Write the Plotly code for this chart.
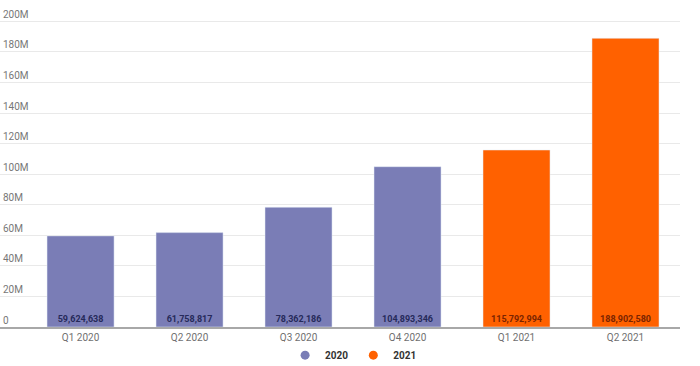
import plotly.graph_objects as go

categories = ["Q1 2020", "Q2 2020", "Q3 2020", "Q4 2020", "Q1 2021", "Q2 2021"]
cat_2020 = ["Q1 2020", "Q2 2020", "Q3 2020", "Q4 2020"]
val_2020 = [59624638, 61758817, 78362186, 104893346]
cat_2021 = ["Q1 2021", "Q2 2021"]
val_2021 = [115792994, 188902580]
y_ticks = [0, 20e6, 40e6, 60e6, 80e6, 100e6, 120e6, 140e6, 160e6, 180e6, 200e6]
y_tick_labels = ["0", "20M", "40M", "60M", "80M", "100M", "120M", "140M", "160M", "180M", "200M"]

C2020 = "#7A7DB6"
C2021 = "#FF6100"

fig = go.Figure()
fig.add_trace(go.Bar(
    x=cat_2020, y=val_2020, name="2020", marker_color=C2020, showlegend=False,
    text=[f"{v:,}" for v in val_2020], textposition="inside", insidetextanchor="start",
    textangle=0, textfont=dict(color="#262A5A", size=9, family="Roboto", weight="bold"),
))
fig.add_trace(go.Bar(
    x=cat_2021, y=val_2021, name="2021", marker_color=C2021, showlegend=False,
    text=[f"{v:,}" for v in val_2021], textposition="inside", insidetextanchor="start",
    textangle=0, textfont=dict(color="#7A2400", size=9, family="Roboto", weight="bold"),
))
# legend entries with circle markers
fig.add_trace(go.Scatter(x=[None], y=[None], mode="markers", name="2020",
                         marker=dict(color=C2020, size=9, symbol="circle")))
fig.add_trace(go.Scatter(x=[None], y=[None], mode="markers", name="2021",
                         marker=dict(color=C2021, size=9, symbol="circle")))

fig.update_layout(
    width=700, height=366,
    margin=dict(l=0, r=20, t=3, b=39, autoexpand=False),
    paper_bgcolor="white", plot_bgcolor="white",
    barmode="overlay", bargap=0.385,
    font=dict(family="Roboto", color="#777777"),
    legend=dict(orientation="h", x=0.52, xanchor="center", y=-0.087, yanchor="middle",
                font=dict(size=10, color="#333333", family="Roboto", weight="bold"),
                itemwidth=30, tracegroupgap=0),
    uniformtext=dict(minsize=8, mode="show"),
)
fig.update_xaxes(
    type="category", categoryorder="array", categoryarray=categories,
    range=[-0.739, 5.5], showgrid=False, showline=True, linecolor="#A8A8A8", linewidth=1.5,
    ticks="", tickfont=dict(size=10, color="#707070"), fixedrange=True,
)
fig.update_yaxes(
    range=[0, 212e6], tickvals=y_ticks, ticktext=y_tick_labels,
    ticklabelposition="inside top", tickfont=dict(size=10, color="#777777"),
    showgrid=True, gridcolor="#E9E9E9", gridwidth=1, zeroline=False, showline=False,
    ticks="",
)

fig.write_html("out.html", config={"displayModeBar": False},
               post_script="document.body.style.margin='0';document.body.style.padding='0';")
